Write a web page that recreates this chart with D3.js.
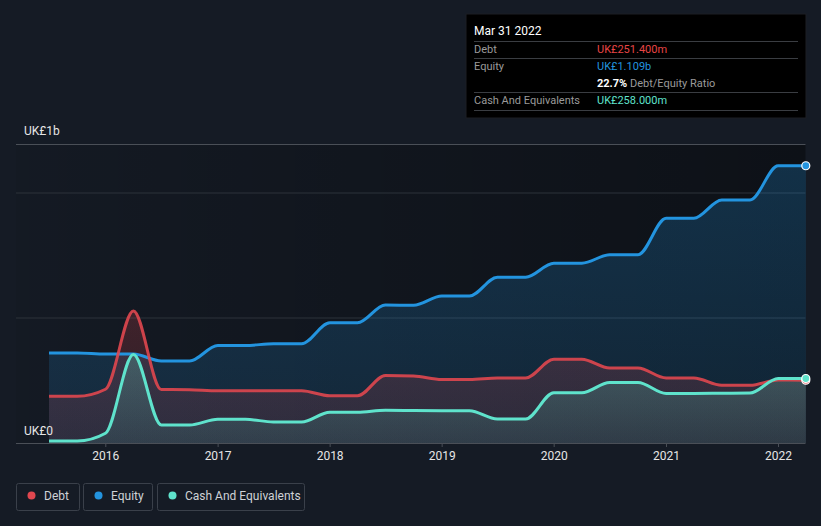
<!DOCTYPE html>
<html>
<head>
<meta charset="utf-8">
<script src="https://cdn.jsdelivr.net/npm/d3@7"></script>
<style>
  html, body { margin: 0; padding: 0; background: #151b25; }
  svg { display: block; font-family: Roboto, "Noto Sans", sans-serif; }
</style>
</head>
<body>
<svg id="chart" width="821" height="526"></svg>
<script>
// ---- data (UK£ millions), quarterly ----
const dates = ["2015-06-30","2015-09-30","2015-12-31","2016-03-31","2016-06-30","2016-09-30","2016-12-31",
  "2017-03-31","2017-06-30","2017-09-30","2017-12-31","2018-03-31","2018-06-30","2018-09-30","2018-12-31",
  "2019-03-31","2019-06-30","2019-09-30","2019-12-31","2020-03-31","2020-06-30","2020-09-30","2020-12-31",
  "2021-03-31","2021-06-30","2021-09-30","2021-12-31","2022-03-31"];
const debt =   [187,187,215,528,214,213,209, 209,209,209,189,189,270,268,254, 254,260,260,335,335,300,300,260, 260,231,231,252,251.4];
const equity = [360,360,356,356,328,328,390, 390,397,397,481,481,552,551,588, 588,663,663,719,719,753,753,899, 899,972,972,1109,1109];
const cash =   [8,8,39,354,72,72,95, 95,84,84,123,123,131,130,129, 129,96,96,201,201,242,242,198, 198,199,200,258,258];
const yearTicks = ["2016","2017","2018","2019","2020","2021","2022"];
const yTickLabels = ["UK£0","UK£1b"];
const seriesNames = ["Debt","Equity","Cash And Equivalents"];
const seriesColors = ["#e0474f","#2394df","#5fe3cc"];
const tooltipTitle = "Mar 31 2022";
const tooltipRows = [
  {label:"Debt", value:"UK£251.400m", color:"#e84545"},
  {label:"Equity", value:"UK£1.109b", color:"#2394df"},
  {label:"", value:"22.7%", extra:" Debt/Equity Ratio", color:"#ffffff"},
  {label:"Cash And Equivalents", value:"UK£258.000m", color:"#5fe3cc"}
];

const parse = d3.timeParse("%Y-%m-%d");
const data = dates.map((d,i)=>({date:parse(d), debt:debt[i], equity:equity[i], cash:cash[i]}));

const svg = d3.select("#chart");
const W = 821, H = 526;
const plotL = 16, plotR = 805.5, plotT = 144, plotB = 443;

const x = d3.scaleTime()
  .domain([parse("2016-01-01"), parse("2022-01-01")])
  .range([105.8, 778.5]);
const y = d3.scaleLinear().domain([0, 1000]).range([plotB, 193]);

const defs = svg.append("defs");
const bgGrad = defs.append("linearGradient").attr("id","bgGrad").attr("x1","0").attr("x2","1").attr("y1","0").attr("y2","0");
bgGrad.append("stop").attr("offset","0").attr("stop-color","#000").attr("stop-opacity",0.05);
bgGrad.append("stop").attr("offset","1").attr("stop-color","#000").attr("stop-opacity",0.38);

function vGrad(id, color, top, bot) {
  const g = defs.append("linearGradient").attr("id",id).attr("x1","0").attr("x2","0").attr("y1","0").attr("y2","1");
  g.append("stop").attr("offset","0").attr("stop-color",color).attr("stop-opacity",top);
  g.append("stop").attr("offset","1").attr("stop-color",color).attr("stop-opacity",bot);
}
vGrad("gEq", "#2394df", 0.24, 0.14);
vGrad("gDebt", "#e0474f", 0.22, 0.12);
vGrad("gCash", "#5fe3cc", 0.24, 0.10);

// background
svg.append("rect").attr("width",W).attr("height",H).attr("fill","#151b25");
svg.append("rect").attr("x",plotL).attr("y",plotT).attr("width",plotR-plotL).attr("height",plotB-plotT).attr("fill","url(#bgGrad)");

// gridlines
[500, 1000].forEach(v=>{
  svg.append("line").attr("x1",plotL).attr("x2",plotR).attr("y1",y(v)).attr("y2",y(v))
    .attr("stroke","#2c323b").attr("stroke-width",1);
});
svg.append("line").attr("x1",plotL).attr("x2",plotR).attr("y1",plotT+0.5).attr("y2",plotT+0.5)
  .attr("stroke","#4a4f57").attr("stroke-width",1);

const curve = d3.curveMonotoneX;
const keys = ["equity","debt","cash"];
const grads = {equity:"url(#gEq)", debt:"url(#gDebt)", cash:"url(#gCash)"};
const cols = {debt:seriesColors[0], equity:seriesColors[1], cash:seriesColors[2]};

keys.forEach(k=>{
  const area = d3.area().x(d=>x(d.date)).y0(y(0)).y1(d=>y(d[k])).curve(curve);
  svg.append("path").datum(data).attr("d",area).attr("fill",grads[k]);
});
keys.forEach(k=>{
  const line = d3.line().x(d=>x(d.date)).y(d=>y(d[k])).curve(curve);
  svg.append("path").datum(data).attr("d",line).attr("fill","none")
    .attr("stroke",cols[k]).attr("stroke-width",3).attr("stroke-linejoin","round")
    .attr("stroke-opacity", k==="debt"?0.9:1);
});

// baseline
svg.append("line").attr("x1",plotL).attr("x2",plotR).attr("y1",plotB+0.5).attr("y2",plotB+0.5)
  .attr("stroke","#4a4f57").attr("stroke-width",1);

// end dots
const last = data[data.length-1];
["debt","equity","cash"].forEach(k=>{
  svg.append("circle").attr("cx",x(last.date)).attr("cy",y(last[k])).attr("r",4)
    .attr("fill",cols[k]).attr("stroke","#fff").attr("stroke-width",1.2);
});

// x axis
const xAxis = svg.append("g").attr("transform",`translate(0,${plotB})`);
yearTicks.forEach(t=>{
  const px = x(parse(t+"-01-01"));
  xAxis.append("line").attr("x1",px).attr("x2",px).attr("y1",0).attr("y2",4).attr("stroke","#4a4f57");
  xAxis.append("text").attr("x",px).attr("y",17).attr("text-anchor","middle")
    .attr("fill","#e6e6e6").attr("font-size",12).text(t);
});

// y labels
svg.append("text").attr("x",24).attr("y",435).attr("fill","#e6e6e6").attr("font-size",12).text(yTickLabels[0]);
svg.append("text").attr("x",24).attr("y",135).attr("fill","#e6e6e6").attr("font-size",12).text(yTickLabels[1]);

// tooltip
const tt = svg.append("g");
tt.append("rect").attr("x",466).attr("y",14).attr("width",340).attr("height",104).attr("fill","#000")
  .attr("stroke","#1c1f24");
tt.append("text").attr("x",474).attr("y",35).attr("fill","#fff").attr("font-size",12).text(tooltipTitle);
const sepY = [41.5, 58.5, 92.5, 110.5];
sepY.forEach(sy=>tt.append("line").attr("x1",474).attr("x2",798).attr("y1",sy).attr("y2",sy).attr("stroke","#3a3d42"));
const rowY = [53, 70, 87, 104];
tooltipRows.forEach((r,i)=>{
  if (r.label) tt.append("text").attr("x",474).attr("y",rowY[i]).attr("fill","#9a9a9a").attr("font-size",11).text(r.label);
  const t = tt.append("text").attr("x",597).attr("y",rowY[i]).attr("font-size",11);
  t.append("tspan").attr("fill",r.color).attr("font-weight", r.extra? "bold":"normal").text(r.value);
  if (r.extra) t.append("tspan").attr("fill","#9a9a9a").text(r.extra);
});

// legend
const legendBoxes = [{x:16,w:63},{x:83,w:69},{x:157,w:147}];
seriesNames.forEach((n,i)=>{
  const b = legendBoxes[i];
  const g = svg.append("g");
  g.append("rect").attr("x",b.x+0.5).attr("y",483.5).attr("width",b.w).attr("height",27).attr("rx",2)
    .attr("fill","none").attr("stroke","#3a404a");
  g.append("circle").attr("cx",b.x+15.5).attr("cy",495.5).attr("r",4).attr("fill",seriesColors[i]);
  g.append("text").attr("x",b.x+28).attr("y",499.5).attr("fill","#cfd2d6").attr("font-size",12).text(n);
});
</script>
</body>
</html>
